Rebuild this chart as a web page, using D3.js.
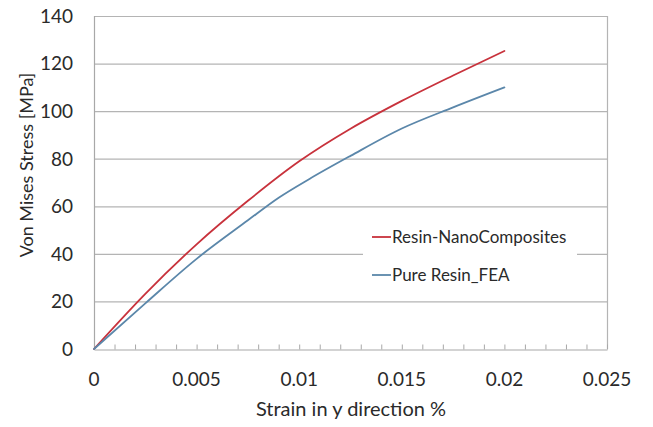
<!DOCTYPE html>
<html>
<head>
<meta charset="utf-8">
<script src="https://cdn.jsdelivr.net/npm/d3@7"></script>
<style>
  html, body { margin: 0; padding: 0; background: #fff; }
  svg { display: block; }
  text { font-family: Lato, "Open Sans", sans-serif; fill: #2a2a2a; }
</style>
</head>
<body>
<svg id="chart" width="653" height="427"></svg>
<script>
// Strain (y direction) sample points
const strainNano = [0, 0.0025, 0.005, 0.0075, 0.01, 0.0125, 0.015, 0.0175, 0.02];
const stressNano = [0, 23.2, 44.0, 62.3, 78.9, 92.6, 104.3, 115.0, 125.3];

const strainPure = [0, 0.0025, 0.005, 0.0075, 0.009, 0.0105, 0.0125, 0.015, 0.0175, 0.02];
const stressPure = [0, 19.2, 37.9, 54.1, 63.6, 71.5, 81.2, 92.7, 101.6, 110.0];

const seriesNames = ["Resin-NanoComposites", "Pure Resin_FEA"];
const seriesColors = ["#c8323c", "#5b87aa"];

const xTicks = [0, 0.005, 0.01, 0.015, 0.02, 0.025];
const xTickLabels = ["0", "0.005", "0.01", "0.015", "0.02", "0.025"];
const xMinorTicks = d3.range(0, 26).map(i => i / 1000);
const yTicks = [0, 20, 40, 60, 80, 100, 120, 140];

const svg = d3.select("#chart");
const m = { left: 94, right: 607, top: 16, bottom: 349 };

const x = d3.scaleLinear().domain([0, 0.025]).range([m.left, m.right]);
const y = d3.scaleLinear().domain([0, 140]).range([m.bottom, m.top]);

// horizontal gridlines
svg.append("g")
  .selectAll("line")
  .data(yTicks.filter(d => d > 0))
  .join("line")
  .attr("x1", m.left).attr("x2", m.right)
  .attr("y1", d => y(d) + 0.5).attr("y2", d => y(d) + 0.5)
  .attr("stroke", "#b4b4b4").attr("stroke-width", 1.2);

// right border
svg.append("line")
  .attr("x1", m.right + 0.5).attr("x2", m.right + 0.5)
  .attr("y1", m.top).attr("y2", m.bottom)
  .attr("stroke", "#b4b4b4").attr("stroke-width", 1.2);

// y axis line and labels
svg.append("line")
  .attr("x1", m.left + 0.5).attr("x2", m.left + 0.5)
  .attr("y1", m.top).attr("y2", m.bottom)
  .attr("stroke", "#a8a8a8").attr("stroke-width", 1.2);

svg.append("g")
  .selectAll("text")
  .data(yTicks)
  .join("text")
  .attr("x", 73)
  .attr("y", d => y(d))
  .attr("dy", "0.36em")
  .attr("text-anchor", "end")
  .style("font-size", "19px")
  .text(d => d);

// x axis: line plus minor ticks pointing inward
const xAxis = d3.axisBottom(x)
  .tickValues(xMinorTicks)
  .tickSize(-5)
  .tickSizeOuter(0)
  .tickFormat("");
const gx = svg.append("g")
  .attr("transform", `translate(0,${m.bottom + 0.5})`)
  .call(xAxis);
gx.select(".domain").attr("stroke", "#a8a8a8").attr("stroke-width", 1.2);
gx.selectAll(".tick line").attr("stroke", "#a8a8a8");

svg.append("g")
  .selectAll("text")
  .data(xTicks)
  .join("text")
  .attr("x", d => x(d))
  .attr("y", 386)
  .attr("text-anchor", "middle")
  .style("font-size", "19px")
  .text((d, i) => xTickLabels[i]);

// axis titles
svg.append("text")
  .attr("x", 351).attr("y", 416)
  .attr("text-anchor", "middle")
  .style("font-size", "20px")
  .text("Strain in y direction %");

svg.append("text")
  .attr("transform", "translate(33,165) rotate(-90)")
  .attr("text-anchor", "middle")
  .style("font-size", "18px")
  .text("Von Mises Stress [MPa]");

// curves
const line = d3.line()
  .x(d => x(d[0]))
  .y(d => y(d[1]))
  .curve(d3.curveMonotoneX);

const series = [
  d3.zip(strainNano, stressNano),
  d3.zip(strainPure, stressPure)
];

svg.append("g")
  .selectAll("path")
  .data(series)
  .join("path")
  .attr("d", line)
  .attr("fill", "none")
  .attr("stroke", (d, i) => seriesColors[i])
  .attr("stroke-width", 1.8)
  .attr("stroke-linecap", "round");

// legend
const legend = svg.append("g");
legend.append("rect")
  .attr("x", 363).attr("y", 222)
  .attr("width", 214).attr("height", 70)
  .attr("fill", "#fff");

const items = legend.selectAll("g.item")
  .data(seriesNames)
  .join("g")
  .attr("class", "item")
  .attr("transform", (d, i) => `translate(372,${237 + i * 38})`);

items.append("line")
  .attr("x1", 0).attr("x2", 19)
  .attr("stroke", (d, i) => seriesColors[i])
  .attr("stroke-width", 1.8);

items.append("text")
  .attr("x", 20)
  .attr("dy", "0.36em")
  .style("font-size", "17px")
  .text(d => d);
</script>
</body>
</html>
